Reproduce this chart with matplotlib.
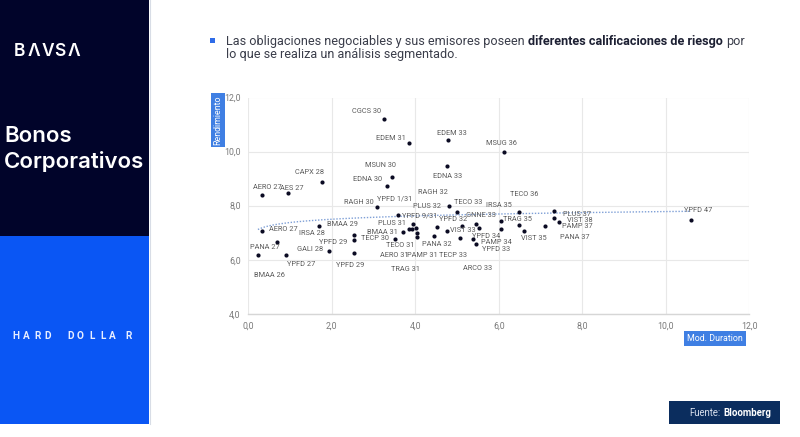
import numpy as np
import matplotlib
matplotlib.use("Agg")
import matplotlib.pyplot as plt
from matplotlib.patches import Rectangle

# ---------------- data ----------------
bonds = ["CGCS 30", "EDEM 31", "EDEM 33", "MSUG 36", "MSUN 30", "EDNA 30", "EDNA 33", "CAPX 28",
         "AERO 27", "AES 27", "RAGH 32", "RAGH 30", "YPFD 1/31", "PLUS 32", "TECO 33", "TECO 36",
         "IRSA 35", "YPFD 9/31", "PLUS 31", "YPFD 32", "GNNE 33", "TRAG 35", "PLUS 37", "VIST 38",
         "PAMP 37", "PANA 37", "BMAA 31", "TECP 30", "VIST 33", "YPFD 34", "PAMP 34", "VIST 35",
         "YPFD 33", "TECO 31", "PANA 32", "AERO 31", "PAMP 31", "TECP 33", "TRAG 31", "ARCO 33",
         "AERO 27", "IRSA 28", "BMAA 29", "YPFD 29", "PANA 27", "GALI 28", "YPFD 29", "YPFD 27",
         "BMAA 26", "YPFD 47"]
mod_duration = [3.24, 3.84, 4.79, 6.13, 3.43, 3.33, 4.76, 1.77,
                0.34, 0.95, 5.13, 3.08, 3.59, 4.80, 4.99, 6.48,
                6.05, 3.95, 3.85, 4.51, 5.46, 6.48, 7.33, 7.33,
                7.44, 7.11, 3.91, 3.51, 4.75, 5.53, 6.05, 6.60,
                5.45, 3.71, 4.45, 4.02, 4.03, 5.06, 4.05, 5.39,
                0.34, 1.69, 2.52, 2.52, 0.68, 1.93, 2.52, 0.90,
                0.23, 10.60]
yield_pct = [11.20, 10.31, 10.43, 9.99, 9.06, 8.73, 9.45, 8.89,
             8.40, 8.47, 7.25, 7.95, 7.67, 7.98, 7.78, 7.78,
             7.42, 7.33, 7.14, 7.22, 7.33, 7.27, 7.80, 7.53,
             7.41, 7.25, 7.14, 6.77, 7.08, 7.17, 7.13, 7.05,
             6.60, 7.04, 6.88, 7.19, 7.00, 6.81, 6.85, 6.75,
             7.07, 7.25, 6.93, 6.72, 6.67, 6.31, 6.24, 6.19,
             6.16, 7.48]
x_ticks = [0, 2, 4, 6, 8, 10, 12]
y_ticks = [4, 6, 8, 10, 12]

# label offsets in pixels (layout)
lab_dx = [-17, -17.7, 4, -2.3, -11.3, -20, 0.5, -12.3,
          4.4, 4, -29.3, -18.4, -3.3, -21.6, 11.6, 5.6,
          -2, 6, -17.3, 16.1, 5.1, -1.3, 22.4, 25,
          18.3, 29.3, -29, -20, 15.9, 6.7, -4.5, 9.6,
          20.5, -3.3, 2.5, -21.7, 6, -6.2, -12.2, 4.2,
          21, -6.7, -10.6, -20, -11.4, -19, -3.3, 15.7,
          12, 7]
lab_dy = [7.3, 4.3, 6.3, 8.4, 11.3, 6.7, -10, 9,
          7.4, 4, 33, 4.3, 15.5, 0, 9, 17,
          16.3, 7.8, 5.7, 7.7, 8.1, 6.3, -3, -1.7,
          -5, -11.3, -3.3, 0.8, -0.3, -8.6, -13.2, -7.4,
          -5.8, -14, -8.3, -27.8, -23.3, -17.5, -33.2, -29.2,
          1.7, -7.7, 10, -2.4, -6.3, 2, -12.7, -10,
          -20, 9]

W, H = 800, 437
fig = plt.figure(figsize=(W / 100, H / 100), dpi=100)
fig.patch.set_facecolor("white")


def fx(px):
    return px / W


def fy(py):
    return 1 - py / H


def rect(x0, y0, x1, y1, color, z=0):
    fig.add_artist(Rectangle((fx(x0), fy(y1)), fx(x1) - fx(x0), fy(y0) - fy(y1),
                             transform=fig.transFigure, facecolor=color,
                             edgecolor="none", zorder=z))


# ---------- left panel ----------
rect(0, 0, 149, 236, "#01042a")
rect(0, 236, 149, 424, "#0a56f4")
fig.add_artist(plt.Line2D([fx(149.5), fx(149.5)], [fy(0), fy(424)], transform=fig.transFigure,
                          color="#d8dde6", lw=0.8))

for ch, px in zip("BΛVSΛ", [19, 33.5, 47.5, 60, 73.5]):
    fig.text(fx(px), fy(51), ch, color="white", fontsize=12.5, fontweight="semibold",
             family="Inter", ha="center", va="center")
fig.text(fx(4), fy(136), "Bonos", color="white", fontsize=16, family="Inter",
         fontweight="semibold", ha="left", va="center")
fig.text(fx(4), fy(161), "Corporativos", color="white", fontsize=16, family="Inter",
         fontweight="semibold", ha="left", va="center")
hd_x = [12, 23, 34, 44, 67, 77, 89, 100, 109, 125]
for ch, px in zip("HARDDOLLAR", hd_x):
    fig.text(fx(px), fy(336), ch, color="#e8eeff", fontsize=7.2, fontweight="bold",
             family="Roboto", ha="left", va="center")

# ---------- header text ----------
rect(210, 38.5, 214.5, 43, "#2f6ce8")
renderer = fig.canvas.get_renderer()


def text_w(t):
    return t.get_window_extent(renderer).width


hdr_fs = 9.1
xcur = 226
pieces = [("Las obligaciones negociables y sus emisores poseen", "normal", "#3a3d4a"),
          ("diferentes calificaciones de riesgo", "bold", "#1d2033"),
          ("por", "normal", "#3a3d4a")]
probe = fig.text(0, 0, "a a", fontsize=hdr_fs, family="Roboto")
probe2 = fig.text(0, 0, "aa", fontsize=hdr_fs, family="Roboto")
space_w = text_w(probe) - text_w(probe2)
probe.remove()
probe2.remove()
for s, wgt, col in pieces:
    t = fig.text(fx(xcur), fy(41), s, fontsize=hdr_fs, fontweight=wgt, color=col,
                 family="Roboto", ha="left", va="center")
    xcur += text_w(t) + space_w
fig.text(fx(226), fy(54.5), "lo que se realiza un análisis segmentado.", fontsize=hdr_fs,
         color="#3a3d4a", family="Roboto", ha="left", va="center")

# ---------- chart ----------
ax = fig.add_axes([fx(248.3), fy(313.8), fx(749.3) - fx(248.3), fy(97.5) - fy(313.8)])
ax.set_xlim(0, 12)
ax.set_ylim(4, 12)
ax.set_xticks(x_ticks)
ax.set_yticks(y_ticks)
ax.set_xticklabels([f"{v:.1f}".replace(".", ",") for v in x_ticks])
ax.set_yticklabels([f"{v:.1f}".replace(".", ",") for v in y_ticks])
ax.tick_params(length=0, labelsize=6.3, labelcolor="#7a7a7a", pad=5.5)
for lab in ax.get_xticklabels() + ax.get_yticklabels():
    lab.set_family("Roboto")
ax.grid(True, color="#e8e8e8", lw=0.8)
ax.set_axisbelow(True)
for side in ["top", "right", "left"]:
    ax.spines[side].set_visible(False)
ax.spines["bottom"].set_color("#d6d6d6")
ax.spines["bottom"].set_linewidth(1.0)
ax.set_facecolor("none")

xd = np.array(mod_duration)
yd = np.array(yield_pct)
ax.scatter(xd, yd, s=9, color="#0b0b23", zorder=3, linewidths=0)

# logarithmic trendline fitted to the data
b, a = np.polyfit(np.log(xd), yd, 1)
xt = np.linspace(xd.min(), xd.max(), 200)
ax.plot(xt, a + b * np.log(xt), linestyle=(0, (1, 1.2)), color="#7e9fd6", lw=1.0, zorder=2)

for name, x, y, dx, dy in zip(bonds, xd, yd, lab_dx, lab_dy):
    ax.annotate(name, (x, y), xytext=(dx, dy), textcoords="offset pixels",
                ha="center", va="center", fontsize=5.3, color="#5a5a5a", family="Roboto",
                zorder=4)

# axis title boxes
fig.text(fx(218), fy(120), "Rendimiento", rotation=90, color="white", fontsize=6.4,
         family="Roboto", ha="center", va="center",
         bbox=dict(boxstyle="square,pad=0.3", facecolor="#3f7fe3", edgecolor="none"))
fig.text(fx(715), fy(338.5), "Mod. Duration", color="white", fontsize=6.4,
         family="Roboto", ha="center", va="center",
         bbox=dict(boxstyle="square,pad=0.3", facecolor="#3f7fe3", edgecolor="none"))

# source box
rect(669, 401, 780, 424, "#0b2d5e")
t1 = fig.text(fx(689), fy(413), "Fuente:", color="#d6deec", fontsize=6.9, family="Roboto",
              ha="left", va="center")
fig.text(fx(689) + (text_w(t1) + 2.8) / W, fy(413), "Bloomberg", color="white", fontsize=6.9,
         fontweight="bold", family="Roboto", ha="left", va="center")

fig.savefig("out.png", dpi=100)
